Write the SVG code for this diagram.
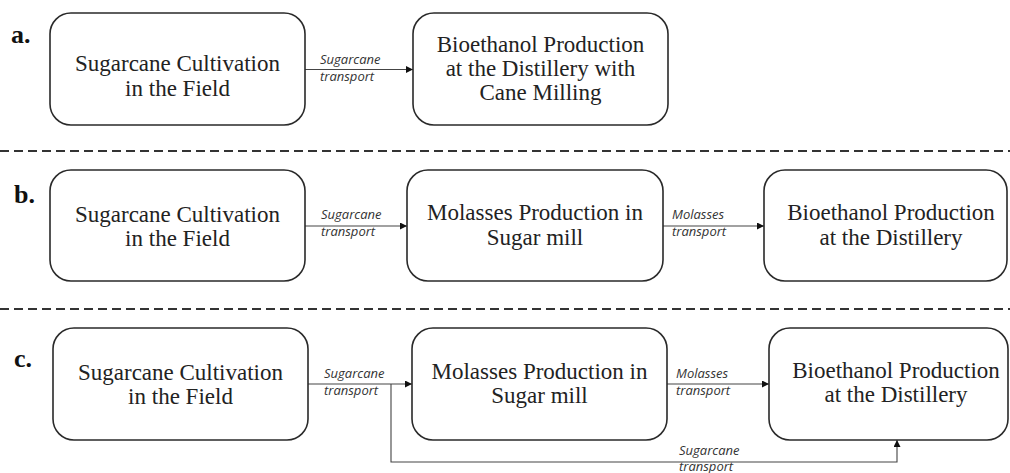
<svg xmlns="http://www.w3.org/2000/svg" width="1010" height="473" viewBox="0 0 1010 473">
<defs>
<style>
.box{fill:#fff;stroke:#2a2a2a;stroke-width:1.6}
.nt{font-family:"Liberation Serif","Times New Roman",serif;font-size:23px;fill:#222;text-anchor:middle}
.lb{font-family:"Open Sans","Liberation Sans",sans-serif;font-style:italic;font-size:13px;fill:#333}
.pl{font-family:"Liberation Serif","Times New Roman",serif;font-weight:bold;font-size:26px;fill:#111}
.cn{fill:none;stroke:#444;stroke-width:1.1}
.dash{stroke:#333;stroke-width:2;stroke-dasharray:9 5}
</style>
<marker id="ah" viewBox="0 0 10 10" refX="10" refY="5" markerWidth="9" markerHeight="7" markerUnits="userSpaceOnUse" orient="auto">
<path d="M0,0 L10,5 L0,10 z" fill="#111"/>
</marker>
</defs>
<rect width="1010" height="473" fill="#fff"/>
<g id="separators">
<line class="dash" x1="0" y1="151" x2="1010" y2="151"/>
<line class="dash" x1="0" y1="309" x2="1010" y2="309"/>
</g>
<g id="panel-labels">
<text class="pl" x="11" y="43">a.</text>
<text class="pl" x="14" y="203">b.</text>
<text class="pl" x="14" y="367">c.</text>
</g>
<g id="connectors">
<line class="cn" x1="305" y1="69.5" x2="413" y2="69.5" marker-end="url(#ah)"/>
<line class="cn" x1="305" y1="226" x2="407" y2="226" marker-end="url(#ah)"/>
<line class="cn" x1="663" y1="226" x2="764" y2="226" marker-end="url(#ah)"/>
<line class="cn" x1="308" y1="384" x2="412" y2="384" marker-end="url(#ah)"/>
<line class="cn" x1="667" y1="384" x2="769" y2="384" marker-end="url(#ah)"/>
<polyline class="cn" points="391,384 391,462 897,462 897,440" marker-end="url(#ah)"/>
<text class="lb" x="320" y="64">Sugarcane</text>
<text class="lb" x="320" y="81">transport</text>
<text class="lb" x="321" y="219">Sugarcane</text>
<text class="lb" x="321" y="236">transport</text>
<text class="lb" x="672" y="219">Molasses</text>
<text class="lb" x="672" y="236">transport</text>
<text class="lb" x="324" y="378">Sugarcane</text>
<text class="lb" x="324" y="395">transport</text>
<text class="lb" x="676" y="378">Molasses</text>
<text class="lb" x="676" y="395">transport</text>
<text class="lb" x="679" y="455">Sugarcane</text>
<text class="lb" x="679" y="471">transport</text>
</g>
<g id="a-cultivation">
<rect class="box" x="50" y="13" width="255" height="112" rx="21"/>
<text class="nt" x="177.5" y="71">Sugarcane Cultivation</text>
<text class="nt" x="177.5" y="96">in the Field</text>
</g>
<g id="a-distillery">
<rect class="box" x="413" y="13" width="255" height="112" rx="21"/>
<text class="nt" x="540.5" y="52">Bioethanol Production</text>
<text class="nt" x="540.5" y="76">at the Distillery with</text>
<text class="nt" x="540.5" y="100">Cane Milling</text>
</g>
<g id="b-cultivation">
<rect class="box" x="50" y="170" width="255" height="111" rx="21"/>
<text class="nt" x="177.5" y="222">Sugarcane Cultivation</text>
<text class="nt" x="177.5" y="246">in the Field</text>
</g>
<g id="b-sugarmill">
<rect class="box" x="407" y="170" width="256" height="111" rx="21"/>
<text class="nt" x="535" y="220">Molasses Production in</text>
<text class="nt" x="535" y="245">Sugar mill</text>
</g>
<g id="b-distillery">
<rect class="box" x="764" y="170" width="243" height="111" rx="21"/>
<text class="nt" x="891" y="220">Bioethanol Production</text>
<text class="nt" x="891" y="245">at the Distillery</text>
</g>
<g id="c-cultivation">
<rect class="box" x="53" y="328" width="255" height="112" rx="21"/>
<text class="nt" x="180.5" y="380">Sugarcane Cultivation</text>
<text class="nt" x="180.5" y="404">in the Field</text>
</g>
<g id="c-sugarmill">
<rect class="box" x="412" y="328" width="255" height="112" rx="21"/>
<text class="nt" x="539.5" y="379">Molasses Production in</text>
<text class="nt" x="539.5" y="403">Sugar mill</text>
</g>
<g id="c-distillery">
<rect class="box" x="769" y="328" width="239" height="112" rx="21"/>
<text class="nt" x="896" y="378">Bioethanol Production</text>
<text class="nt" x="896" y="402">at the Distillery</text>
</g>
</svg>
